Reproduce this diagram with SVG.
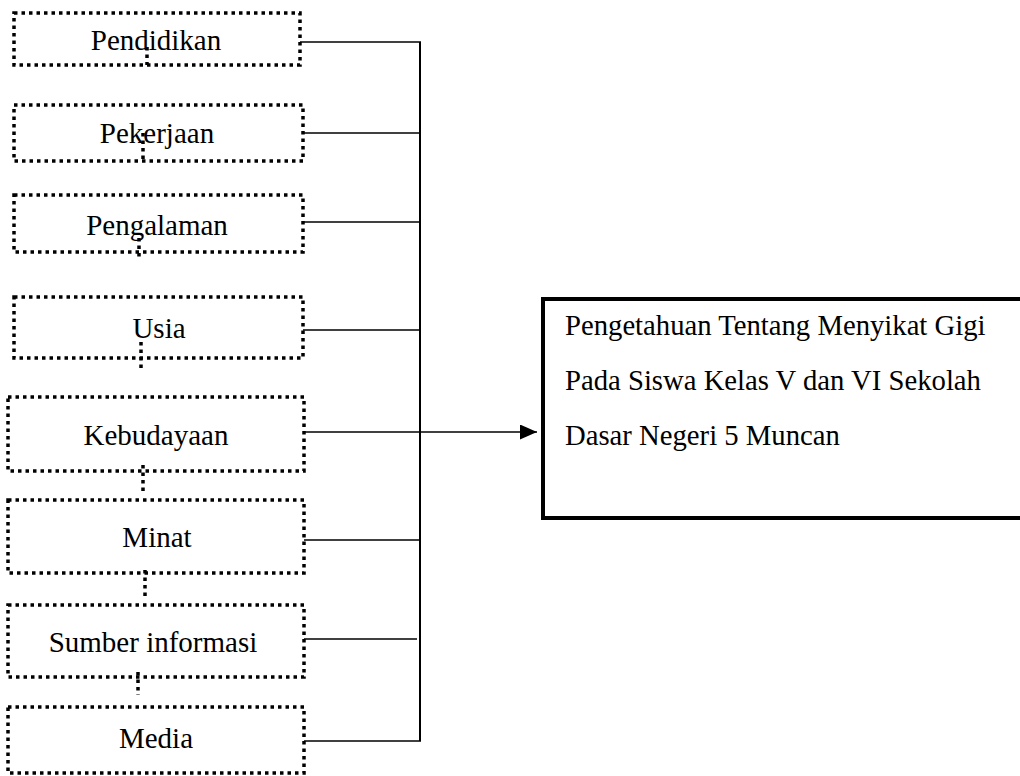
<svg xmlns="http://www.w3.org/2000/svg" width="1020" height="776" viewBox="0 0 1020 776">
<style>
.box{fill:none;stroke:#000;stroke-width:3.5;stroke-dasharray:3.5 4}
.lbl{font-family:"Liberation Serif","Times New Roman",serif;font-size:29px;fill:#000;text-anchor:middle}
.main{font-family:"Liberation Serif","Times New Roman",serif;font-size:28.7px;fill:#000}
.dot{stroke:#000;stroke-width:3.5;stroke-dasharray:3.5 4;fill:none}
.ln{stroke:#000;stroke-width:1.6;fill:none}
</style>
<defs>
<marker id="ah" markerWidth="17" markerHeight="15" refX="17" refY="7.5" orient="auto" markerUnits="userSpaceOnUse">
<polygon points="0,0 17,7.5 0,15" fill="#000"/>
</marker>
</defs>
<g id="connectors">
<line class="dot" x1="147" y1="47" x2="147" y2="65"/>
<line class="dot" x1="143" y1="133" x2="143" y2="161"/>
<line class="dot" x1="139" y1="238" x2="139" y2="258"/>
<line class="dot" x1="141" y1="342" x2="141" y2="368"/>
<line class="dot" x1="143" y1="465" x2="143" y2="492"/>
<line class="dot" x1="145" y1="570" x2="145" y2="597"/>
<line class="dot" x1="138" y1="672" x2="138" y2="695"/>
<line class="ln" x1="420" y1="42" x2="420" y2="741" style="stroke-width:2"/>
<line class="ln" x1="300" y1="42" x2="421" y2="42"/>
<line class="ln" x1="303" y1="133" x2="421" y2="133"/>
<line class="ln" x1="303" y1="222" x2="421" y2="222"/>
<line class="ln" x1="303" y1="330" x2="421" y2="330"/>
<line class="ln" x1="304" y1="432" x2="537" y2="432" marker-end="url(#ah)"/>
<line class="ln" x1="304" y1="540" x2="421" y2="540"/>
<line class="ln" x1="304" y1="639" x2="417" y2="639"/>
<line class="ln" x1="304" y1="741" x2="421" y2="741"/>
</g>
<g id="n1"><rect class="box" x="14" y="13" width="286" height="52"/><text class="lbl" x="156" y="50">Pendidikan</text></g>
<g id="n2"><rect class="box" x="14" y="105" width="289" height="56"/><text class="lbl" x="157" y="143">Pekerjaan</text></g>
<g id="n3"><rect class="box" x="14" y="195" width="289" height="57"/><text class="lbl" x="157" y="235">Pengalaman</text></g>
<g id="n4"><rect class="box" x="14" y="297" width="289" height="61"/><text class="lbl" x="159" y="338">Usia</text></g>
<g id="n5"><rect class="box" x="8" y="397" width="296" height="74"/><text class="lbl" x="156" y="445">Kebudayaan</text></g>
<g id="n6"><rect class="box" x="8" y="500" width="296" height="73"/><text class="lbl" x="157" y="547">Minat</text></g>
<g id="n7"><rect class="box" x="8" y="605" width="296" height="72"/><text class="lbl" x="153" y="652">Sumber informasi</text></g>
<g id="n8"><rect class="box" x="8" y="707" width="296" height="66"/><text class="lbl" x="156" y="748">Media</text></g>
<g id="target">
<rect x="543" y="299" width="490" height="219" fill="none" stroke="#000" stroke-width="4"/>
<text class="main" x="565" y="335">Pengetahuan Tentang Menyikat Gigi</text>
<text class="main" x="565" y="390">Pada Siswa Kelas V dan VI Sekolah</text>
<text class="main" x="565" y="445">Dasar Negeri 5 Muncan</text>
</g>
</svg>
